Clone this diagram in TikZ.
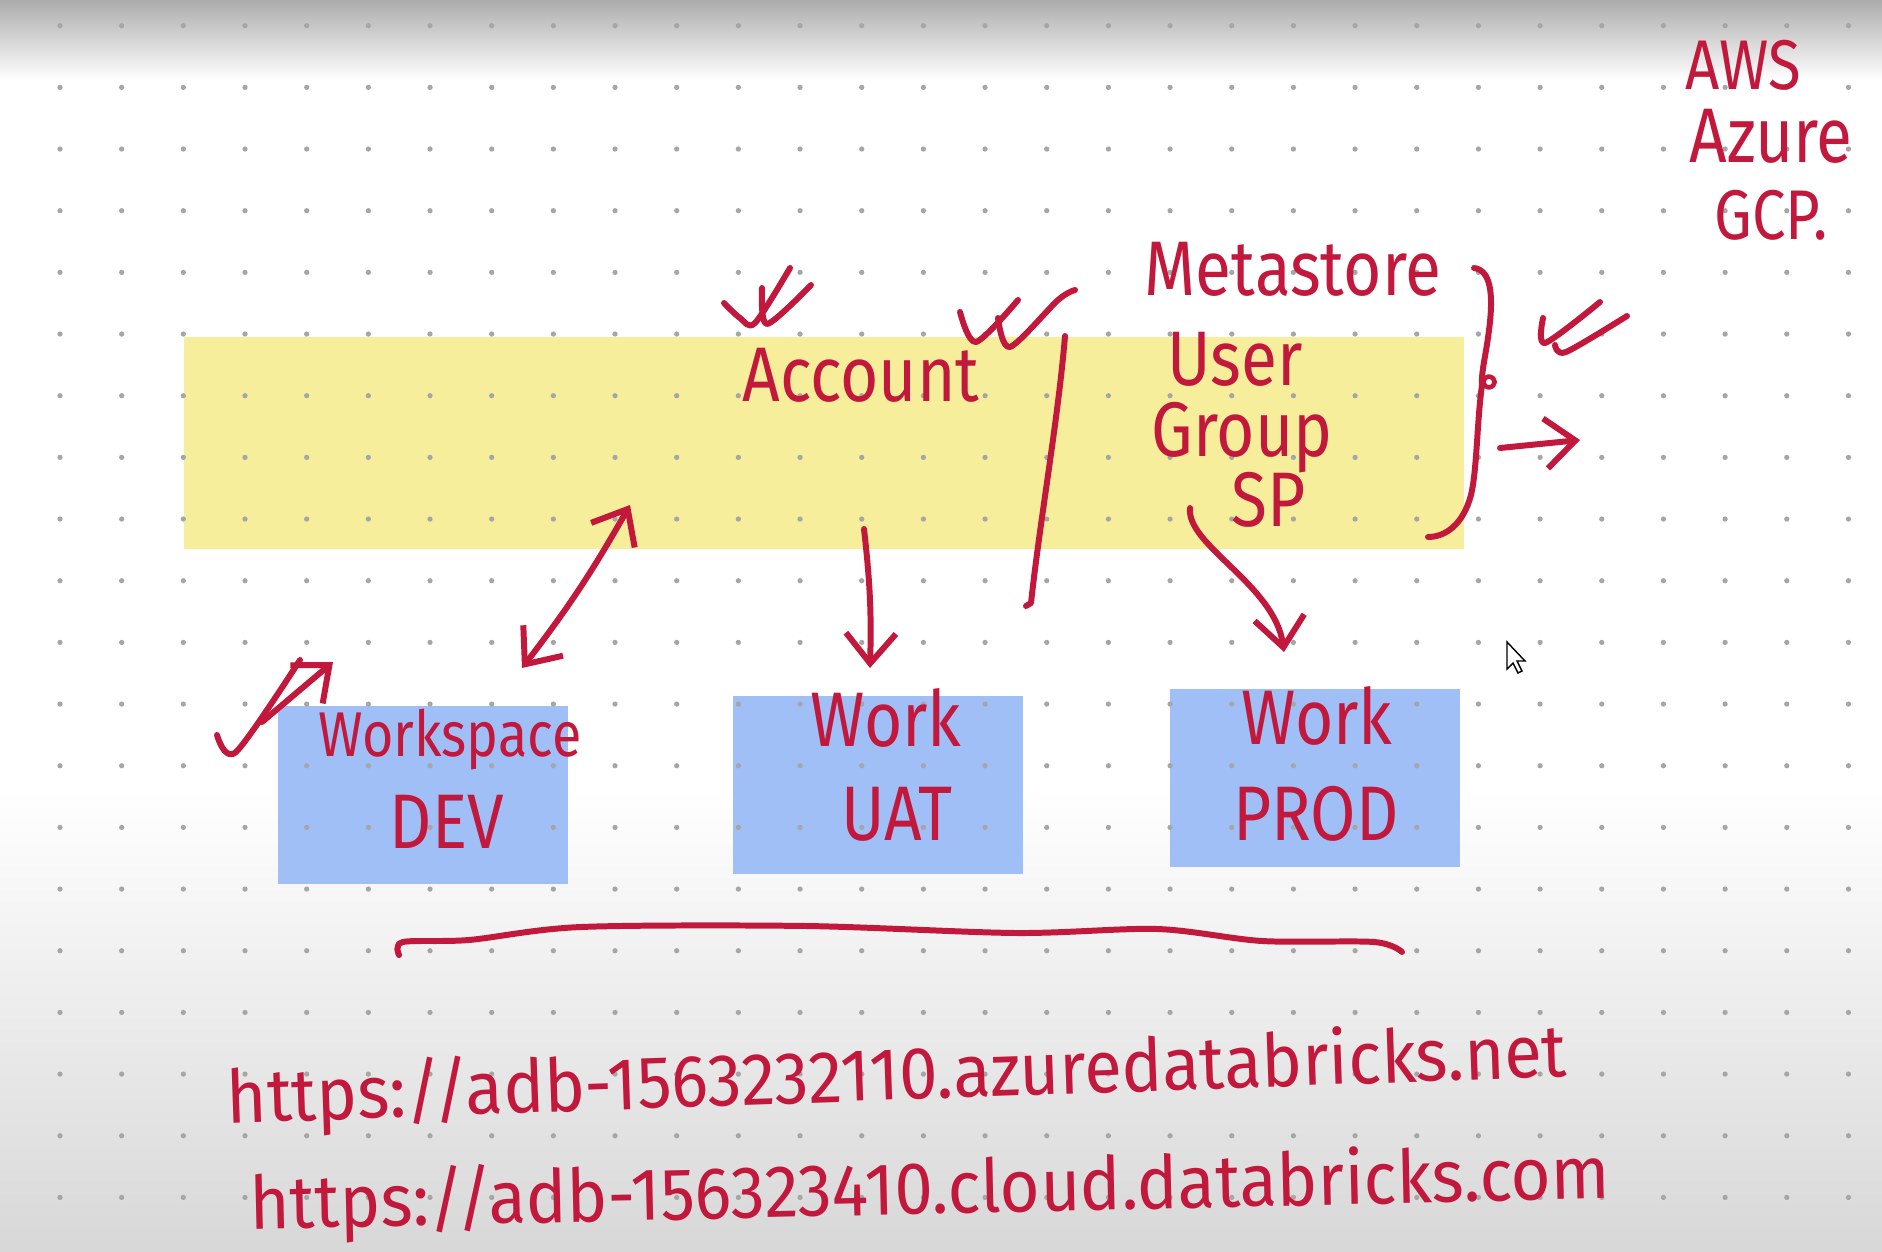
\documentclass[tikz,border=0pt]{standalone}
\usepackage{fontspec}
\setmainfont{Fira Sans}[FakeStretch=0.85]
\newfontfamily\urlfont{Fira Sans}[FakeStretch=0.93]
\usetikzlibrary{arrows.meta}
\definecolor{inkred}{HTML}{C2183C}
\definecolor{notepad}{HTML}{F7EE9B}
\definecolor{wsblue}{HTML}{9FBFF6}
\definecolor{dotgray}{HTML}{A6A6A6}

\begin{document}
\begin{tikzpicture}[x=0.01cm,y=-0.01cm,
  ink/.style={draw=inkred,line width=1.7pt,line cap=round,line join=round},
  inkarrow/.style={ink,-{Straight Barb[length=3mm,width=5mm]}},
  hand/.style={text=inkred,inner sep=0pt,anchor=base,font=\fontsize{22}{26}\selectfont},
  urltext/.style={text=inkred,inner sep=0pt,font=\urlfont\fontsize{21}{24}\selectfont},
  bigbox/.style={fill=notepad,minimum width=12.8cm,minimum height=2.12cm,inner sep=0pt},
  wsbox/.style={fill=wsblue,minimum width=2.9cm,minimum height=1.77cm,inner sep=0pt}]
\useasboundingbox (0,0) rectangle (1882,1252);
% paper
\fill[white] (0,0) rectangle (1882,1252);
\shade[top color=gray!65,bottom color=white] (0,0) rectangle (1882,80);
\shade[top color=white,bottom color=gray!31] (0,790) rectangle (1882,1252);

% account and workspaces
\node[bigbox] (acct) at (824,443) {};
\node[wsbox] (dev) at (423,795) {};
\node[wsbox] (uat) at (878,785) {};
\node[wsbox] (prod) at (1315,778) {};

% dot grid
\foreach \i in {0,...,29}
  \foreach \j in {0,...,19}
    \fill[dotgray] ({60+61.67*\i},{25.7+61.67*\j}) circle (0.75pt);

% clouds
\node[hand,font=\fontsize{20}{24}\selectfont] (aws) at (1743,90) {AWS};
\node[hand] (azure) at (1771,163) {Azure};
\node[hand,font=\fontsize{20}{24}\selectfont] (gcp) at (1771,240) {GCP.};

% labels
\node[hand] (metalbl) at (1293,296) {Metastore};
\node[hand] (acctlbl) at (861,402) {Account};
\node[hand] (userlbl) at (1235,386) {User};
\node[hand] (grouplbl) at (1242,456) {Group};
\node[hand] (splbl) at (1269,526) {SP};
\node[hand,font=\fontsize{18}{22}\selectfont] (devword) at (450,756) {Workspace};
\node[hand] (devname) at (447,848) {DEV};
\node[hand] (uatword) at (886,746) {Work};
\node[hand] (uatname) at (897,840) {UAT};
\node[hand] (prodword) at (1317,744) {Work};
\node[hand] (prodname) at (1316,840) {PROD};

% divider and brace
\draw[ink] (1065,336) .. controls (1058,420) and (1040,520) .. (1031,603) -- (1026,606);
\draw[ink] (1474,268) .. controls (1490,270) and (1494,292) .. (1489,330)
  .. controls (1486,355) and (1481,372) .. (1482,385)
  .. controls (1477,420) and (1477,470) .. (1471,495)
  .. controls (1463,525) and (1445,537) .. (1428,537);
\draw[ink,line width=1.3pt] (1489,382) circle (1.6pt);

% connectors
\coordinate (devend) at (522,668);
\coordinate (acctend) at (630,505);
\coordinate (acctdown) at (864,529);
\coordinate (uatend) at (870,668);
\coordinate (spstart) at (1190,508);
\coordinate (prodend) at (1284,652);
\coordinate (bracetip) at (1500,448);
\coordinate (rightend) at (1580,440);
\draw[ink,{Straight Barb[length=3mm,width=5mm]}-{Straight Barb[length=3mm,width=5mm]}] (devend) to[bend right=4] (acctend);
\draw[inkarrow] (acctdown) to[bend left=4] (uatend);
\draw[inkarrow] (spstart) .. controls (1186,545) and (1275,585) .. (prodend);
\draw[inkarrow] (bracetip) -- (rightend);

% ticks
\draw[ink] plot[smooth] coordinates {(724,303) (740,318) (755,323) (790,268)};
\draw[ink] plot[smooth] coordinates {(762,288) (767,324) (811,285)};
\draw[ink] plot[smooth] coordinates {(960,312) (976,342) (1018,300)};
\draw[ink] plot[smooth] coordinates {(998,318) (1010,347) (1058,300) (1075,290)};
\draw[ink] plot[smooth] coordinates {(1543,318) (1545,343) (1600,302)};
\draw[ink] plot[smooth] coordinates {(1555,345) (1566,352) (1627,316)};
\draw[ink] plot[smooth] coordinates {(217,735) (236,752) (300,660)};
\draw[inkarrow] (262,722) -- (333,662);

% underline
\draw[ink] plot[smooth,tension=0.5] coordinates {(399,955) (403,942) (469,940) (581,927) (806,926) (1016,933) (1157,929) (1262,941) (1374,942) (1402,952)};

% urls
\node[urltext,rotate=2] (urlazure) at (897,1078) {https://adb-1563232110.azuredatabricks.net};
\node[urltext,rotate=1.3] (urlcloud) at (930,1192) {https://adb-156323410.cloud.databricks.com};

% pointer
\filldraw[fill=white,draw=black,line width=0.4pt] (1507,642) -- (1507,669) -- (1513,663) -- (1518,673) -- (1522,671) -- (1517,661) -- (1525,661) -- cycle;
\end{tikzpicture}
\end{document}
